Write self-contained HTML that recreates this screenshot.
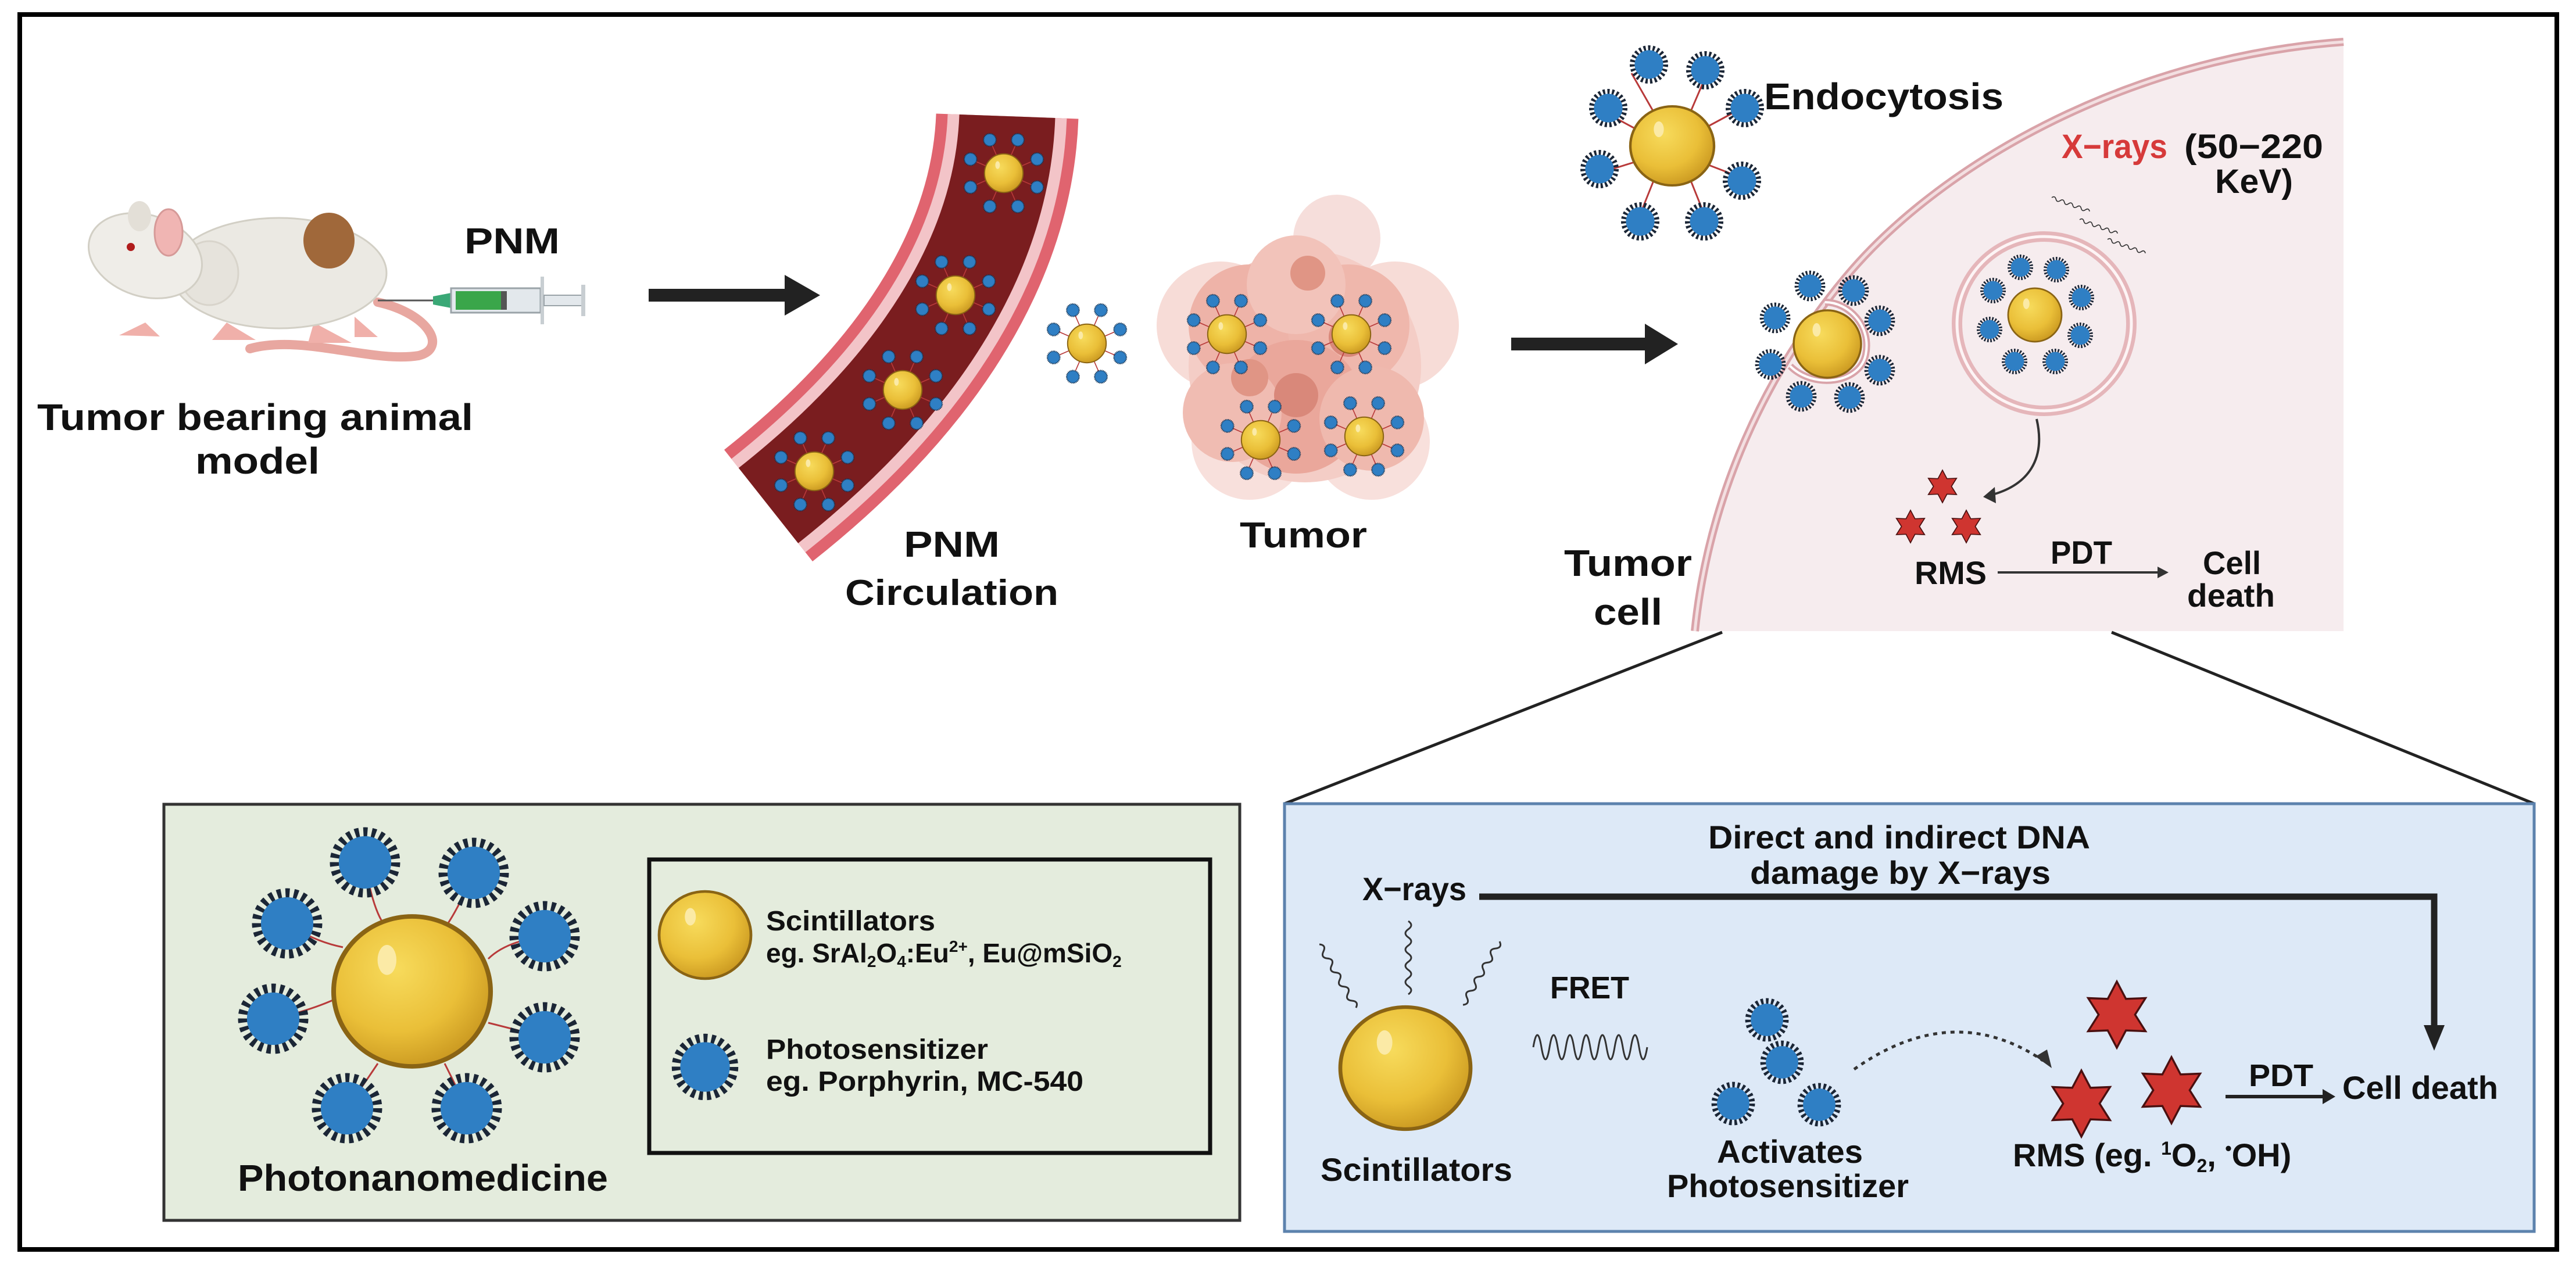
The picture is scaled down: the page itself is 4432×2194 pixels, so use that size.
<!DOCTYPE html>
<html><head><meta charset="utf-8"><style>
html,body{margin:0;padding:0;background:#fff}
svg{display:block}
text{font-family:"Liberation Sans",Arial,sans-serif;font-weight:bold;fill:#111}
</style></head><body>
<svg width="4432" height="2194" viewBox="0 0 4432 2194" xmlns="http://www.w3.org/2000/svg">
<defs>
<radialGradient id="gg" cx="0.4" cy="0.35" r="0.7">
<stop offset="0" stop-color="#f7db5c"/><stop offset="0.6" stop-color="#eabf38"/><stop offset="1" stop-color="#c8961f"/>
</radialGradient>
<g id="gold"><circle r="1" fill="url(#gg)" stroke="#8a6414" stroke-width="0.06"/><ellipse cx="-0.32" cy="-0.42" rx="0.12" ry="0.2" fill="#fbeaa6"/></g>
<g id="dot"><circle r="1" fill="#2f7fc4" stroke="#14304e" stroke-width="0.22" stroke-dasharray="0.12 0.12"/></g>
<g id="ps"><circle r="0.95" fill="none" stroke="#1b2636" stroke-width="0.3" stroke-dasharray="0.13 0.13"/><circle r="0.82" fill="#2f7fc4"/></g>
<g id="np">
<g stroke="#b83a3a" stroke-width="2" fill="none">
<path d="M30,12 L69,29 M12,30 L29,69 M-12,30 L-29,69 M-30,12 L-69,29 M-30,-12 L-69,-29 M-12,-30 L-29,-69 M12,-30 L29,-69 M30,-12 L69,-29"/></g>
<use href="#gold" transform="scale(40)"/>
<use href="#dot" transform="translate(69,29) scale(13)"/><use href="#dot" transform="translate(29,69) scale(13)"/>
<use href="#dot" transform="translate(-29,69) scale(13)"/><use href="#dot" transform="translate(-69,29) scale(13)"/>
<use href="#dot" transform="translate(-69,-29) scale(13)"/><use href="#dot" transform="translate(-29,-69) scale(13)"/>
<use href="#dot" transform="translate(29,-69) scale(13)"/><use href="#dot" transform="translate(69,-29) scale(13)"/>
</g>
<polygon id="star" points="0,-1 .275,-.476 .866,-.5 .55,0 .866,.5 .275,.476 0,1 -.275,.476 -.866,.5 -.55,0 -.866,-.5 -.275,-.476" fill="#cf3530" stroke="#4a1010" stroke-width="0.06"/>
<path id="sq" d="M0,0 q10,7 0,14 q-10,7 0,14 q10,7 0,14 q-10,7 0,14 q10,7 0,14 q-10,7 0,14 q10,7 0,14 q-10,7 0,14 q10,7 0,14" fill="none" stroke="#333" stroke-width="3"/>
</defs>

<rect x="34" y="25" width="4365" height="2125" fill="#fff" stroke="#000" stroke-width="8"/>

<!-- Mouse -->
<path d="M650,520 C740,540 770,600 720,612 C640,625 520,575 430,600" fill="none" stroke="#e8a7a0" stroke-width="16" stroke-linecap="round"/>
<path d="M250,555 l-45,22 l70,2z M390,555 l-25,30 l75,0z M540,555 l-10,35 l75,0z M610,545 l0,35 l40,0z" fill="#f0b0aa"/>
<ellipse cx="480" cy="470" rx="185" ry="95" fill="#ebe9e3" stroke="#d2cfc5" stroke-width="3"/>
<ellipse cx="360" cy="470" rx="50" ry="55" fill="#e6e3dc" stroke="#d8d4cb" stroke-width="3"/>
<ellipse cx="250" cy="440" rx="100" ry="70" fill="#efede8" stroke="#d2cfc5" stroke-width="3" transform="rotate(18 250 440)"/>
<ellipse cx="240" cy="372" rx="20" ry="26" fill="#e3dfd7"/>
<ellipse cx="290" cy="400" rx="24" ry="40" fill="#f0b5b3" stroke="#d69a98" stroke-width="3"/>
<circle cx="225" cy="425" r="7" fill="#b01c1c"/>
<ellipse cx="566" cy="414" rx="44" ry="48" fill="#a0683a"/>
<!-- syringe -->
<line x1="650" y1="517" x2="776" y2="517" stroke="#555" stroke-width="3"/>
<polygon points="745,510 776,504 776,530 745,524" fill="#3aa876"/>
<rect x="776" y="496" width="154" height="42" fill="#e3e8ec" stroke="#9aa3a8" stroke-width="3"/>
<rect x="784" y="501" width="78" height="32" fill="#3aa64a"/>
<rect x="862" y="501" width="10" height="32" fill="#555"/>
<rect x="930" y="476" width="6" height="82" fill="#c8ced2"/>
<rect x="936" y="508" width="66" height="18" fill="#e3e8ec" stroke="#9aa3a8" stroke-width="2"/>
<rect x="1000" y="490" width="7" height="54" fill="#c8ced2"/>
<text x="799" y="436" font-size="62" textLength="164" lengthAdjust="spacingAndGlyphs">PNM</text>
<text x="64" y="740" font-size="64" textLength="750" lengthAdjust="spacingAndGlyphs">Tumor bearing animal</text>
<text x="336" y="815" font-size="64" textLength="214" lengthAdjust="spacingAndGlyphs">model</text>

<rect x="1116" y="497" width="236" height="22" fill="#222"/>
<polygon points="1350,473 1411,508 1350,543" fill="#222"/>

<!-- vessel -->
<path d="M1733,200 C1725,420 1600,650 1322,870" fill="none" stroke="#e0646f" stroke-width="245"/>
<path d="M1733,200 C1725,420 1600,650 1322,870" fill="none" stroke="#f3c4c8" stroke-width="205"/>
<path d="M1733,200 C1725,420 1600,650 1322,870" fill="none" stroke="#7a1d1f" stroke-width="165"/>
<use href="#np" transform="translate(1727,298) scale(0.83)"/>
<use href="#np" transform="translate(1644,508) scale(0.83)"/>
<use href="#np" transform="translate(1553,671) scale(0.83)"/>
<use href="#np" transform="translate(1401,811) scale(0.83)"/>
<text x="1555" y="958" font-size="62" textLength="165" lengthAdjust="spacingAndGlyphs">PNM</text>
<text x="1454" y="1041" font-size="62" textLength="367" lengthAdjust="spacingAndGlyphs">Circulation</text>

<use href="#np" transform="translate(1870,591) scale(0.83)"/>

<!-- tumor -->
<g>
<circle cx="2300" cy="410" r="75" fill="#f6dedb"/>
<circle cx="2100" cy="560" r="110" fill="#f7dcd7"/>
<circle cx="2400" cy="560" r="110" fill="#f7dcd7"/>
<circle cx="2150" cy="760" r="100" fill="#f8e0dc"/>
<circle cx="2360" cy="760" r="100" fill="#f8e0dc"/>
<circle cx="2245" cy="630" r="200" fill="#f4cdc6"/>
<circle cx="2150" cy="560" r="105" fill="#eeb3a8"/>
<circle cx="2320" cy="560" r="105" fill="#efb7ac"/>
<circle cx="2230" cy="700" r="115" fill="#eaa79b"/>
<circle cx="2120" cy="710" r="85" fill="#f0bcb2"/>
<circle cx="2360" cy="720" r="90" fill="#efb9ae"/>
<circle cx="2230" cy="490" r="85" fill="#f2c3ba"/>
<circle cx="2230" cy="680" r="38" fill="#d9887a"/>
<circle cx="2320" cy="580" r="34" fill="#d9887a"/>
<circle cx="2150" cy="650" r="32" fill="#e09585"/>
<circle cx="2250" cy="470" r="30" fill="#e09585"/>
</g>
<use href="#np" transform="translate(2111,575) scale(0.83)"/>
<use href="#np" transform="translate(2325,575) scale(0.83)"/>
<use href="#np" transform="translate(2169,757) scale(0.83)"/>
<use href="#np" transform="translate(2347,751) scale(0.83)"/>
<text x="2133" y="942" font-size="62" textLength="219" lengthAdjust="spacingAndGlyphs">Tumor</text>

<rect x="2600" y="581" width="232" height="22" fill="#222"/>
<polygon points="2830,557 2887,592 2830,627" fill="#222"/>

<!-- cell -->
<path d="M4032,69 C3650,100 3330,290 3174,479 C3040,640 2940,850 2916,1086 L4032,1086 Z" fill="#f6ecee"/>
<path d="M4032,72 C3650,100 3330,290 3174,479 C3040,640 2940,850 2916,1086" fill="none" stroke="#d9a3a9" stroke-width="14"/>
<path d="M4032,72 C3650,100 3330,290 3174,479 C3040,640 2940,850 2916,1086" fill="none" stroke="#f3dfe1" stroke-width="5"/>
<path d="M3140,520 C3180,520 3220,560 3210,610 C3200,660 3120,670 3080,630" fill="none" stroke="#d9a3a9" stroke-width="12"/>
<path d="M3140,520 C3180,520 3220,560 3210,610 C3200,660 3120,670 3080,630" fill="none" stroke="#fff" stroke-width="4"/>
<g transform="translate(2877,251)">
<g stroke="#b83a3a" stroke-width="3" fill="none"><path d="M55,30 L120,55 M30,55 L60,130 M-30,55 L-60,130 M-55,25 L-120,45 M-55,-25 L-120,-60 M-30,-55 L-70,-125 M30,-55 L60,-125 M55,-30 L120,-65"/></g>
<use href="#gold" transform="scale(72,68)"/>
<use href="#ps" transform="translate(120,60) scale(30)"/><use href="#ps" transform="translate(55,130) scale(30)"/>
<use href="#ps" transform="translate(-55,130) scale(30)"/><use href="#ps" transform="translate(-125,40) scale(30)"/>
<use href="#ps" transform="translate(-110,-65) scale(30)"/><use href="#ps" transform="translate(-40,-140) scale(30)"/>
<use href="#ps" transform="translate(57,-130) scale(30)"/><use href="#ps" transform="translate(125,-65) scale(30)"/>
</g>
<text x="3035" y="188" font-size="64" textLength="412" lengthAdjust="spacingAndGlyphs">Endocytosis</text>
<text x="3547" y="272" font-size="58" textLength="182" lengthAdjust="spacingAndGlyphs" style="fill:#d63a3a">X−rays</text>
<text x="3758" y="272" font-size="58" textLength="239" lengthAdjust="spacingAndGlyphs">(50−220</text>
<text x="3811" y="332" font-size="58" textLength="134" lengthAdjust="spacingAndGlyphs">KeV)</text>
<use href="#sq" transform="translate(3530,340) rotate(-70) scale(0.55)"/>
<use href="#sq" transform="translate(3578,378) rotate(-70) scale(0.55)"/>
<use href="#sq" transform="translate(3626,412) rotate(-70) scale(0.55)"/>
<g transform="translate(3144,592)">
<use href="#gold" transform="scale(58)"/>
<use href="#ps" transform="translate(-30,-100) scale(24)"/><use href="#ps" transform="translate(45,-92) scale(24)"/>
<use href="#ps" transform="translate(-90,-45) scale(24)"/><use href="#ps" transform="translate(90,-40) scale(24)"/>
<use href="#ps" transform="translate(-98,35) scale(24)"/><use href="#ps" transform="translate(90,45) scale(24)"/>
<use href="#ps" transform="translate(-45,90) scale(24)"/><use href="#ps" transform="translate(38,92) scale(24)"/>
</g>
<circle cx="3517" cy="557" r="150" fill="none" stroke="#e5b6ba" stroke-width="18"/>
<circle cx="3517" cy="557" r="150" fill="none" stroke="#fdf4f5" stroke-width="5"/>
<g transform="translate(3501,542)">
<use href="#gold" transform="scale(46)"/>
<use href="#ps" transform="translate(-25,-82) scale(20)"/><use href="#ps" transform="translate(37,-78) scale(20)"/>
<use href="#ps" transform="translate(-72,-42) scale(20)"/><use href="#ps" transform="translate(80,-30) scale(20)"/>
<use href="#ps" transform="translate(-78,25) scale(20)"/><use href="#ps" transform="translate(78,35) scale(20)"/>
<use href="#ps" transform="translate(-35,80) scale(20)"/><use href="#ps" transform="translate(35,80) scale(20)"/>
</g>
<path d="M3504,721 C3520,790 3490,835 3425,852" fill="none" stroke="#333" stroke-width="4"/>
<polygon points="3412,855 3432,838 3434,866" fill="#333"/>
<use href="#star" transform="translate(3342,837) scale(28)"/>
<use href="#star" transform="translate(3287,906) scale(28)"/>
<use href="#star" transform="translate(3383,906) scale(28)"/>
<text x="3294" y="1005" font-size="56" textLength="124" lengthAdjust="spacingAndGlyphs">RMS</text>
<line x1="3437" y1="985" x2="3715" y2="985" stroke="#333" stroke-width="4"/>
<polygon points="3712,975 3731,985 3712,995" fill="#333"/>
<text x="3528" y="970" font-size="56" textLength="106" lengthAdjust="spacingAndGlyphs">PDT</text>
<text x="3790" y="988" font-size="56" textLength="100" lengthAdjust="spacingAndGlyphs">Cell</text>
<text x="3763" y="1044" font-size="56" textLength="151" lengthAdjust="spacingAndGlyphs">death</text>
<text x="2691" y="991" font-size="64" textLength="220" lengthAdjust="spacingAndGlyphs">Tumor</text>
<text x="2742" y="1075" font-size="64" textLength="118" lengthAdjust="spacingAndGlyphs">cell</text>

<line x1="2963" y1="1088" x2="2210" y2="1383" stroke="#222" stroke-width="5"/>
<line x1="3633" y1="1088" x2="4360" y2="1383" stroke="#222" stroke-width="5"/>

<!-- green box -->
<rect x="282" y="1384" width="1851" height="716" fill="#e4ecdd" stroke="#333" stroke-width="5"/>
<g stroke="#b83a3a" stroke-width="3" fill="none">
<path d="M628,1484 Q640,1560 660,1590 M815,1502 Q790,1560 770,1590 M494,1589 Q540,1620 590,1630 M937,1611 Q870,1620 840,1650 M470,1753 Q530,1740 575,1720 M937,1785 Q880,1770 840,1760 M597,1907 Q630,1860 650,1830 M803,1907 Q780,1860 765,1830"/>
</g>
<use href="#gold" transform="translate(709,1706) scale(135,129)"/>
<use href="#ps" transform="translate(628,1484) scale(55)"/>
<use href="#ps" transform="translate(815,1502) scale(55)"/>
<use href="#ps" transform="translate(494,1589) scale(55)"/>
<use href="#ps" transform="translate(937,1611) scale(55)"/>
<use href="#ps" transform="translate(470,1753) scale(55)"/>
<use href="#ps" transform="translate(937,1785) scale(55)"/>
<use href="#ps" transform="translate(597,1907) scale(55)"/>
<use href="#ps" transform="translate(803,1907) scale(55)"/>
<text x="409" y="2049" font-size="64" textLength="637" lengthAdjust="spacingAndGlyphs">Photonanomedicine</text>

<rect x="1117" y="1479" width="965" height="505" fill="none" stroke="#111" stroke-width="7"/>
<use href="#gold" transform="translate(1213,1609) scale(79,75)"/>
<use href="#ps" transform="translate(1213,1836) scale(52)"/>
<text x="1318" y="1601" font-size="48" textLength="291" lengthAdjust="spacingAndGlyphs">Scintillators</text>
<text x="1318" y="1656" font-size="46">eg.  SrAl<tspan font-size="28" dy="8">2</tspan><tspan dy="-8">O</tspan><tspan font-size="28" dy="8">4</tspan><tspan dy="-8">:Eu</tspan><tspan font-size="28" dy="-18">2+</tspan><tspan dy="18">, Eu@mSiO</tspan><tspan font-size="28" dy="8">2</tspan></text>
<text x="1318" y="1822" font-size="48" textLength="382" lengthAdjust="spacingAndGlyphs">Photosensitizer</text>
<text x="1318" y="1877" font-size="48" textLength="546" lengthAdjust="spacingAndGlyphs">eg. Porphyrin, MC-540</text>

<!-- blue box -->
<rect x="2210" y="1383" width="2150" height="736" fill="#dde9f7" stroke="#5c82ad" stroke-width="5"/>
<text x="2939" y="1460" font-size="56" textLength="657" lengthAdjust="spacingAndGlyphs">Direct and indirect DNA</text>
<text x="3011" y="1521" font-size="56" textLength="517" lengthAdjust="spacingAndGlyphs">damage by X−rays</text>
<text x="2344" y="1549" font-size="56" textLength="179" lengthAdjust="spacingAndGlyphs">X−rays</text>
<path d="M2545,1543 H4188 V1770" fill="none" stroke="#222" stroke-width="11"/>
<polygon points="4170,1764 4206,1764 4188,1808" fill="#222"/>
<use href="#sq" transform="translate(2270,1625) rotate(-30)"/>
<use href="#sq" transform="translate(2423,1585)"/>
<use href="#sq" transform="translate(2580,1620) rotate(30)"/>
<use href="#gold" transform="translate(2418,1838) scale(112,105)"/>
<text x="2272" y="2032" font-size="56" textLength="330" lengthAdjust="spacingAndGlyphs">Scintillators</text>
<text x="2667" y="1718" font-size="54" textLength="136" lengthAdjust="spacingAndGlyphs">FRET</text>
<path d="M2638,1802 q7,-42 14,0 q7,42 14,0 q7,-42 14,0 q7,42 14,0 q7,-42 14,0 q7,42 14,0 q7,-42 14,0 q7,42 14,0 q7,-42 14,0 q7,42 14,0 q7,-42 14,0 q7,42 14,0 q7,-42 14,0 q7,42 14,0" fill="none" stroke="#333" stroke-width="3"/>
<use href="#ps" transform="translate(3040,1755) scale(34)"/>
<use href="#ps" transform="translate(3066,1828) scale(34)"/>
<use href="#ps" transform="translate(2982,1899) scale(34)"/>
<use href="#ps" transform="translate(3130,1901) scale(34)"/>
<text x="2954" y="2001" font-size="56" textLength="251" lengthAdjust="spacingAndGlyphs">Activates</text>
<text x="2868" y="2060" font-size="56" textLength="416" lengthAdjust="spacingAndGlyphs">Photosensitizer</text>
<path d="M3190,1840 Q3360,1720 3515,1825" fill="none" stroke="#333" stroke-width="5" stroke-dasharray="7 8"/>
<polygon points="3502,1818 3530,1838 3522,1806" fill="#333"/>
<use href="#star" transform="translate(3642,1746) scale(57)"/>
<use href="#star" transform="translate(3581,1899) scale(57)"/>
<use href="#star" transform="translate(3736,1876) scale(57)"/>
<text x="3463" y="2007" font-size="56">RMS (eg. <tspan font-size="32" dy="-20">1</tspan><tspan dy="20">O</tspan><tspan font-size="32" dy="10">2</tspan><tspan dy="-10">, </tspan><tspan font-size="32" dy="-20">•</tspan><tspan dy="20">OH)</tspan></text>
<line x1="3829" y1="1887" x2="4000" y2="1887" stroke="#222" stroke-width="6"/>
<polygon points="3996,1874 4018,1887 3996,1900" fill="#222"/>
<text x="3869" y="1869" font-size="54" textLength="111" lengthAdjust="spacingAndGlyphs">PDT</text>
<text x="4030" y="1891" font-size="56" textLength="268" lengthAdjust="spacingAndGlyphs">Cell death</text>
</svg>
</body></html>
